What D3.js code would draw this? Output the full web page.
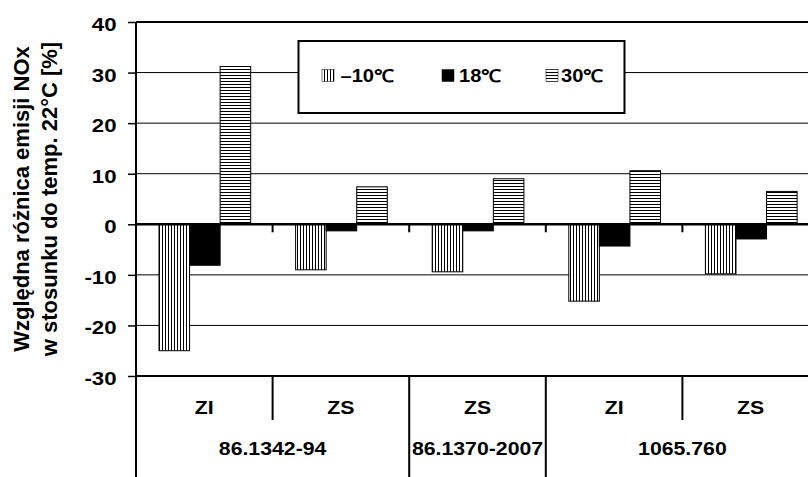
<!DOCTYPE html>
<html><head><meta charset="utf-8">
<script src="https://cdn.jsdelivr.net/npm/d3@7"></script>
<style>
body{margin:0;background:#fff}
svg{display:block}
text{font-family:"Liberation Sans",Arial,sans-serif;font-weight:bold;fill:#000}
</style></head><body>
<svg id="c" width="808" height="477"></svg>
<script>
// ---- data ----
const subCategories = ["ZI", "ZS", "ZS", "ZI", "ZS"];
const groupLabels = ["86.1342-94", "86.1370-2007", "1065.760"];
const groupSpans = [2, 1, 2];
const seriesNames = ["–10℃", "18℃", "30℃"];
const valuesMinus10 = [-25.0, -9.0, -9.4, -15.2, -9.8];
const values18 = [-8.1, -1.3, -1.3, -4.3, -2.9];
const values30 = [31.2, 7.4, 9.0, 10.6, 6.5];
const yTicks = [40, 30, 20, 10, 0, -10, -20, -30];
const yTitle = ["Względna różnica emisji NOx", "w stosunku do temp. 22°C [%]"];

// ---- layout ----
const svg = d3.select("#c");
const L = 136, T = 22, B = 376, groupW = 136.6, W = 808, H = 477;
const SX = 1.15; // horizontal text stretch seen in the reference
const idx = d3.range(subCategories.length);
const x = d3.scaleBand().domain(idx).range([L, L + groupW * idx.length]).paddingInner(0).paddingOuter(0);
const y = d3.scaleLinear().domain([-30, 40]).range([B, T]);
const xs = d3.scaleBand().domain([0, 1, 2]).range([23, 23 + 91.7]);
const series = [valuesMinus10, values18, values30];
const fills = ["url(#vstripe)", "#000", "url(#hstripe)"];

function stretchedText(g, tx, ty, str, size, anchor, sx) {
  return g.append("text")
    .attr("transform", `translate(${tx},${ty}) scale(${sx || SX},1)`)
    .attr("text-anchor", anchor || "middle")
    .style("font-size", size + "px").text(str);
}

const defs = svg.append("defs");
const pv = defs.append("pattern").attr("id", "vstripe").attr("patternUnits", "userSpaceOnUse").attr("width", 3).attr("height", 3);
pv.append("rect").attr("width", 3).attr("height", 3).attr("fill", "#fff");
pv.append("rect").attr("x", 0).attr("width", 1).attr("height", 3).attr("fill", "#000");
const ph = defs.append("pattern").attr("id", "hstripe").attr("patternUnits", "userSpaceOnUse").attr("width", 3).attr("height", 3);
ph.append("rect").attr("width", 3).attr("height", 3).attr("fill", "#fff");
ph.append("rect").attr("y", 0).attr("width", 3).attr("height", 1).attr("fill", "#000");

// gridlines
svg.append("g").selectAll("line").data(yTicks.filter(t => t !== 0 && t !== 40 && t !== -30)).join("line")
  .attr("x1", L).attr("x2", W).attr("y1", d => y(d)).attr("y2", d => y(d))
  .attr("stroke", "#000").attr("stroke-width", 1);

// bars
series.forEach((vals, s) => {
  svg.append("g").selectAll("rect").data(vals).join("rect")
    .attr("x", (d, i) => x(i) + xs(s))
    .attr("width", xs.bandwidth())
    .attr("y", d => y(Math.max(0, d)))
    .attr("height", d => Math.abs(y(d) - y(0)))
    .attr("fill", fills[s]).attr("stroke", "#000").attr("stroke-width", 1);
});

// y axis
const yAxis = d3.axisLeft(y).tickValues(yTicks).tickSize(8).tickPadding(11).tickFormat(d => String(d));
const gy = svg.append("g").attr("transform", `translate(${L},0)`).call(yAxis);
gy.select(".domain").remove();
gy.selectAll(".tick line").attr("stroke", "#000").attr("stroke-width", 1.5);
gy.selectAll(".tick text").style("font-size", "18.5px")
  .attr("x", -19.5 / 1.2).attr("dy", null).attr("y", 8.5)
  .attr("transform", "scale(1.2,1)");

// frame lines
svg.append("line").attr("x1", L).attr("x2", W).attr("y1", y(40)).attr("y2", y(40)).attr("stroke", "#000").attr("stroke-width", 2);
svg.append("line").attr("x1", L).attr("x2", W).attr("y1", y(-30)).attr("y2", y(-30)).attr("stroke", "#000").attr("stroke-width", 2);
svg.append("line").attr("x1", L).attr("x2", W).attr("y1", y(0)).attr("y2", y(0)).attr("stroke", "#000").attr("stroke-width", 2.5);
svg.append("line").attr("x1", L).attr("x2", L).attr("y1", T).attr("y2", H).attr("stroke", "#000").attr("stroke-width", 2);

// small category ticks on the zero line
svg.append("g").selectAll("line").data(idx.slice(1)).join("line")
  .attr("x1", d => x(d)).attr("x2", d => x(d)).attr("y1", y(0)).attr("y2", y(0) + 8)
  .attr("stroke", "#000").attr("stroke-width", 2);

// category table
const groupStarts = groupSpans.map((s, i) => d3.sum(groupSpans.slice(0, i)));
const boundaryIdx = new Set(groupStarts);
svg.append("g").selectAll("line").data(idx.slice(1)).join("line")
  .attr("x1", d => x(d)).attr("x2", d => x(d)).attr("y1", B).attr("y2", d => boundaryIdx.has(d) ? H : 420)
  .attr("stroke", "#000").attr("stroke-width", 2);
const gc = svg.append("g");
subCategories.forEach((d, i) => stretchedText(gc, x(i) + x.bandwidth() / 2, 414, d, 18.5));
groupLabels.forEach((d, i) => stretchedText(gc, x(groupStarts[i]) + x.bandwidth() * groupSpans[i] / 2, 455, d, 18.5));

// y title
const yt = svg.append("text").attr("transform", `translate(22,${(T + B) / 2}) rotate(-90)`).attr("text-anchor", "middle").style("font-size", "22px");
yt.selectAll("tspan").data(yTitle).join("tspan").attr("x", 0).attr("dy", (d, i) => i === 0 ? "0.3em" : "28px").text(d => d);

// legend
const lg = svg.append("g");
lg.append("rect").attr("x", 298.5).attr("y", 41).attr("width", 326).attr("height", 72).attr("fill", "#fff").attr("stroke", "#000").attr("stroke-width", 2);
const legX = [322, 442, 546];
const legTextX = [340.5, 459, 561];
seriesNames.forEach((n, s) => {
  lg.append("rect").attr("x", legX[s]).attr("y", 69.5).attr("width", 12).attr("height", 12).attr("fill", fills[s]).attr("stroke", "#000").attr("stroke-width", 0.5);
  stretchedText(lg, legTextX[s], 81.5, n, 17.5, "start");
});
</script>
</body></html>
